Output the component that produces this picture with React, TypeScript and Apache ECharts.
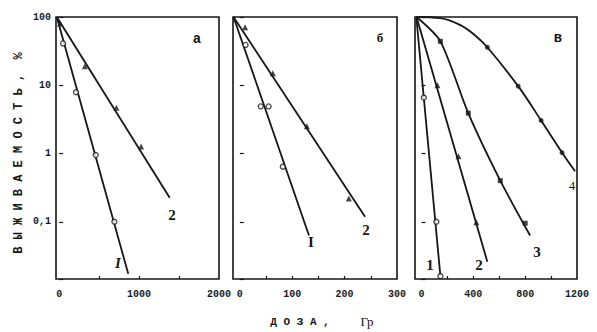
import React, { useEffect, useRef } from "react";
import * as echarts from "echarts";

// y-axis (survival, %), log scale
const yMin = 0.0145;
const yMax = 100;
const yTickValues = [0.1, 1, 10, 100];
const yTickLabels = ["0,1", "1", "10", "100"];

// panel а
const aXTicks = [500, 1000, 1500];
const aXLabels = [0, 1000, 2000];
const aLine1 = [[-30, 100], [864, 0.0173]];
const aPts1 = [[49, 41], [210, 7.9], [457, 0.95], [691, 0.1]];
const aLine2 = [[-30, 100], [1383, 0.225]];
const aPts2 = [[10, 80], [321, 19], [716, 4.7], [1025, 1.27]];

// panel б
const bXTicks = [50, 100, 150, 200, 250];
const bXLabels = [0, 100, 200, 300];
const bLine1 = [[-12, 100], [132, 0.063]];
const bPts1 = [[11, 39], [40, 4.9], [55, 4.9], [82, 0.64]];
const bLine2 = [[-12, 100], [239, 0.118]];
const bPts2 = [[10, 71], [63, 15], [128, 2.5], [208, 0.22]];

// panel в
const vXTicks = [200, 400, 600, 800, 1000];
const vXLabels = [0, 400, 800, 1200];
const vLine1 = [[-40, 100], [146, 0.016]];
const vPts1 = [[18, 6.6], [115, 0.1], [146, 0.016]];
const vLine2 = [[-38, 100], [508, 0.026]];
const vPts2 = [[123, 10], [285, 0.91], [423, 0.098]];
const vLine3 = [[-38, 100], [146, 44], [361, 3.9], [608, 0.4], [838, 0.063]];
const vPts3 = [[146, 44], [361, 3.9], [608, 0.4], [800, 0.095]];
const vLine4 = [[-40, 100], [146, 96], [300, 76], [408, 55], [508, 36], [746, 9.7], [923, 3.05], [1085, 1.03], [1185, 0.55]];
const vPts4 = [[508, 36], [746, 9.7], [923, 3.05], [1085, 1.03]];

const INK = "#161616";
const MONO = "'Liberation Mono', 'DejaVu Sans Mono', monospace";
const SERIF = "'Liberation Serif', 'DejaVu Serif', serif";

function yLabel(v: number): string {
  const e = Math.log10(v);
  if (Math.abs(e - Math.round(e)) > 1e-6) return "";
  const r = Math.round(e);
  const idx = yTickValues.findIndex((t) => Math.round(Math.log10(t)) === r);
  return idx >= 0 ? yTickLabels[idx] : "";
}

export default function App() {
  const ref = useRef<HTMLDivElement>(null);
  useEffect(() => {
    document.body.style.margin = "0";
    if (!ref.current) return;
    const chart = echarts.init(ref.current, undefined, { renderer: "svg" });

    const grids = [
      { left: 56, top: 17, width: 163, height: 262 },
      { left: 233, top: 17, width: 164, height: 262 },
      { left: 415, top: 17, width: 162, height: 262 },
    ].map((g) => ({ ...g, show: true, borderColor: INK, borderWidth: 1.6, backgroundColor: "transparent" }));

    const xCfg = [
      { min: -40, max: 2000, ticks: aXTicks, labels: aXLabels },
      { min: -13, max: 300, ticks: bXTicks, labels: bXLabels },
      { min: -50, max: 1200, ticks: vXTicks, labels: vXLabels },
    ];

    const xAxis = xCfg.map((c, i) => ({
      type: "value",
      gridIndex: i,
      min: c.min,
      max: c.max,
      splitLine: { show: false },
      axisLine: { show: false },
      axisTick: { show: true, inside: true, length: 3, customValues: c.ticks, lineStyle: { color: INK, width: 1.2 } },
      axisLabel: {
        show: true,
        customValues: c.labels,
        margin: 10,
        color: "#1c1c1c",
        fontFamily: MONO,
        fontWeight: "bold",
        fontSize: 10,
        formatter: (v: number) => String(v),
      },
    }));

    const yAxis = [0, 1, 2].map((i) => ({
      type: "log",
      logBase: 10,
      gridIndex: i,
      min: yMin,
      max: yMax,
      splitLine: { show: false },
      axisLine: { show: false },
      axisTick: { show: true, inside: true, length: 4, lineStyle: { color: INK, width: 1.2 } },
      axisLabel: {
        show: i === 0,
        margin: 5,
        color: "#1c1c1c",
        fontFamily: MONO,
        fontWeight: "bold",
        fontSize: 10,
        formatter: yLabel,
        showMinLabel: true,
        showMaxLabel: true,
      },
    }));

    const line = (data: number[][], g: number, smooth: number | boolean = false) => ({
      type: "line",
      xAxisIndex: g,
      yAxisIndex: g,
      data,
      smooth,
      showSymbol: false,
      symbol: "none",
      lineStyle: { color: INK, width: 1.8 },
      clip: true,
      z: 2,
    });
    const pts = (data: number[][], g: number, symbol: string, size: number, filled: boolean) => ({
      type: "scatter",
      xAxisIndex: g,
      yAxisIndex: g,
      data,
      symbol,
      symbolSize: size,
      itemStyle: filled
        ? { color: INK }
        : { color: "#fff", borderColor: INK, borderWidth: 1.3 },
      z: 3,
    });

    const series = [
      line(aLine1, 0), pts(aPts1, 0, "circle", 5, false),
      line(aLine2, 0), pts(aPts2, 0, "triangle", 6, true),
      line(bLine1, 1), pts(bPts1, 1, "circle", 5, false),
      line(bLine2, 1), pts(bPts2, 1, "triangle", 6, true),
      line(vLine1, 2), pts(vPts1, 2, "circle", 5, false),
      line(vLine2, 2), pts(vPts2, 2, "triangle", 6, true),
      line(vLine3, 2, 0.25), pts(vPts3, 2, "rect", 5, true),
      line(vLine4, 2, 0.35), pts(vPts4, 2, "circle", 5, true),
    ];

    const txt = (text: string, x: number, y: number, size: number, opts: any = {}) => ({
      type: "text",
      x,
      y,
      style: {
        text,
        fill: INK,
        font: `${opts.italic ? "italic " : ""}${opts.weight || "bold"} ${size}px ${opts.family || SERIF}`,
        align: "center",
        verticalAlign: "middle",
      },
      ...(opts.rotation ? { rotation: opts.rotation } : {}),
      z: 10,
    });

    chart.setOption({
      animation: false,
      backgroundColor: "#fff",
      grid: grids,
      xAxis,
      yAxis,
      series,
      graphic: [
        txt("I", 118, 263, 15, { italic: true }),
        txt("2", 172, 215, 15),
        txt("а", 197, 39, 14, { family: MONO }),
        txt("I", 311, 242, 15),
        txt("2", 366, 230, 15),
        txt("б", 380, 37, 13),
        txt("1", 430, 265, 15),
        txt("2", 479, 265, 15),
        txt("3", 537, 252, 15),
        txt("4", 572, 185, 13, { weight: "normal" }),
        txt("в", 558, 38, 14, { family: MONO }),
        txt("В Ы Ж И В А Е М О С Т Ь ,  %", 19, 153, 12, { family: MONO, rotation: Math.PI / 2 }),
        txt("Д О З А ,", 300, 322, 11, { family: MONO }),
        txt("Гр", 367, 321, 13, { weight: "normal" }),
      ],
    });
    return () => chart.dispose();
  }, []);
  return <div ref={ref} style={{ width: 597, height: 332 }} />;
}
